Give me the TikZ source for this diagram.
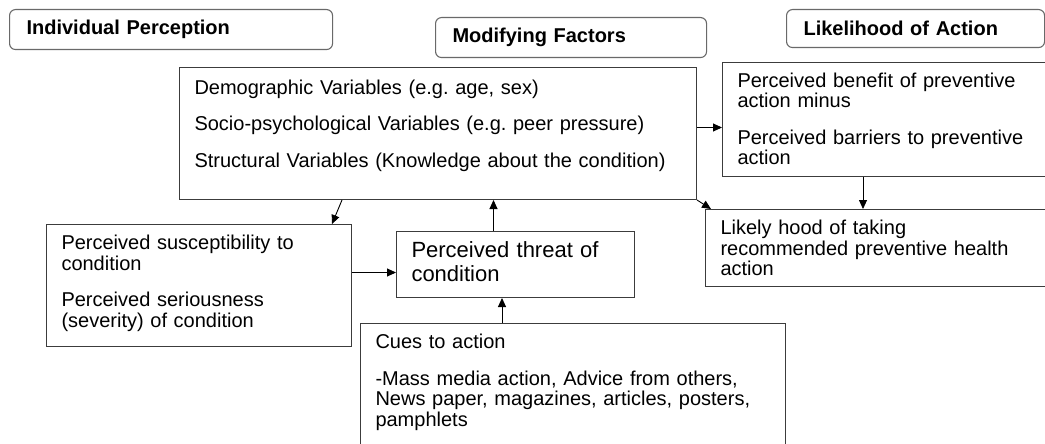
\documentclass[tikz,border=0pt]{standalone}
\usepackage{fontspec}
\setmainfont{Liberation Sans}
\usetikzlibrary{arrows.meta,calc}
\definecolor{hbline}{RGB}{105,105,105}
\definecolor{bxline}{RGB}{60,60,60}

\begin{document}
\begin{tikzpicture}[
  x=1pt, y=-1pt,
  every node/.style={font=\fontsize{20}{20.5}\selectfont\frenchspacing},
  head/.style={draw=hbline, line width=1.1pt, rounded corners=6pt, anchor=north west,
    align=left, inner xsep=17pt, inner ysep=0pt,
    font=\fontsize{20}{20.5}\selectfont\bfseries},
  box/.style={draw=bxline, line width=1pt, anchor=north west, align=left,
    inner xsep=15pt, inner ysep=8pt, text height=17pt},
  arr/.style={-{Triangle[length=9pt,width=8pt]}, draw=black, line width=0.9pt}
]
  \useasboundingbox (0,0) rectangle (1045,444);
  \clip (0,0) rectangle (1045,444);

  % column headers
  \node[head, text width=289pt, minimum height=40pt] (indiv) at (9,9) {Individual Perception};
  \node[head, text width=237pt, minimum height=40pt] (modif) at (435,17) {Modifying Factors};
  \node[head, text width=224pt, minimum height=38pt] (likeh) at (786,9) {Likelihood of Action};

  % boxes
  \node[box, text width=487pt, text height=19pt, text depth=97pt] (demo) at (179,67)
    {Demographic Variables (e.g. age, sex)\\[16pt]
     Socio-psychological Variables (e.g. peer pressure)\\[16pt]
     Structural Variables (Knowledge about the condition)};
  \node[box, text width=310pt, text depth=81pt] (benefit) at (722,62)
    {Perceived benefit of preventive\\action minus\\[16pt]
     Perceived barriers to preventive\\action};
  \node[box, text width=330pt, text depth=44pt] (likely) at (705,209)
    {Likely hood of taking\\recommended preventive health\\action};
  \node[box, text width=208pt, text height=18pt, text depth=32pt,
    font=\fontsize{22}{24}\selectfont] (threat) at (396,231)
    {Perceived threat of\\condition};
  \node[box, text width=275pt, text depth=89pt] (suscept) at (46,224)
    {Perceived susceptibility to\\condition\\[16pt]
     Perceived seriousness\\(severity) of condition};
  \node[box, text width=395pt, text depth=107pt] (cues) at (360,323)
    {Cues to action\\[16pt]
     -Mass media action, Advice from others,\\News paper, magazines, articles, posters,\\pamphlets};

  % connectors
  \draw[arr] ([yshift=6pt]demo.east) -- ([yshift=6pt]demo.east -| benefit.west);
  \draw[arr] ([xshift=141pt]benefit.south west) -- ([xshift=141pt]benefit.south west |- likely.north);
  \draw[arr] (demo.south east) -- ([xshift=6pt]likely.north west);
  \draw[arr] ([xshift=163pt]demo.south west) -- ([xshift=286pt]suscept.north west);
  \draw[arr] ([yshift=13pt]suscept.east) -- ([yshift=13pt]suscept.east -| threat.west);
  \draw[arr] ([xshift=-22pt]threat.north) -- ([xshift=-22pt]threat.north |- demo.south);
  \draw[arr] ([xshift=142pt]cues.north west) -- ([xshift=142pt]cues.north west |- threat.south);
\end{tikzpicture}
\end{document}
